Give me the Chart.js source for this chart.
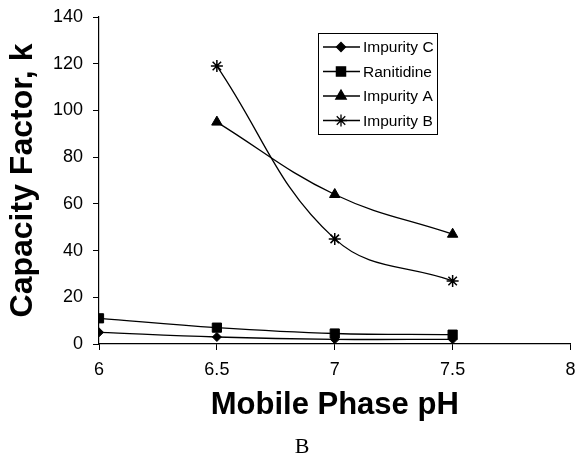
<!DOCTYPE html>
<html>
<head>
<meta charset="utf-8">
<script src="https://cdn.jsdelivr.net/npm/chart.js@4.4.1/dist/chart.umd.min.js"></script>
<style>
  html, body { margin: 0; padding: 0; background: #fff; }
  #wrap { position: relative; width: 578px; height: 456px; }
  #panel { position: absolute; left: 282px; width: 40px; top: 435px; text-align: center;
           font: 22px/22px "Liberation Serif", "Times New Roman", serif; color: #000; }
</style>
</head>
<body>
<div id="wrap">
  <canvas id="chart" width="578" height="456"></canvas>
  <div id="panel">B</div>
</div>
<script>
// mobile phase pH vs capacity factor
let ph = [6, 6.5, 7, 7.5];
let impurityC = [5, 3, 2, 2];
let ranitidine = [11, 7, 4.5, 4];
let impurityA = [null, 95, 64, 47];
let impurityB = [null, 119, 45, 27];

let names = ['Impurity C', 'Ranitidine', 'Impurity A', 'Impurity B'];
let styles = ['rectRot', 'rect', 'triangle', 'star'];
let sizes = [4.5, 6.5, 6, 6];

function pts(vals) {
  let out = [];
  for (let i = 0; i < ph.length; i++) {
    if (vals[i] !== null) out.push({x: ph[i], y: vals[i]});
  }
  return out;
}

function ds(i, vals) {
  return {
    label: names[i],
    data: pts(vals),
    borderColor: '#000',
    backgroundColor: '#000',
    borderWidth: 1.3,
    pointStyle: styles[i],
    pointRadius: sizes[i],
    pointBorderWidth: styles[i] == 'star' ? 1.5 : 1,
    tension: 0.4
  };
}

// legend drawn inside the plot box
let boxLegend = {
  id: 'boxLegend',
  afterDraw(chart) {
    let ctx = chart.ctx;
    let a = chart.chartArea;
    let x0 = a.left + 219, y0 = a.top + 16, w = 119, h = 101;
    ctx.save();
    ctx.strokeStyle = '#000';
    ctx.lineWidth = 1;
    ctx.strokeRect(x0 + 0.5, y0 + 0.5, w, h);
    ctx.font = '15.5px "Liberation Sans", Arial, sans-serif';
    ctx.textBaseline = 'middle';
    ctx.fillStyle = '#000';
    for (let i = 0; i < names.length; i++) {
      let cy = y0 + 14 + i * 24.5;
      ctx.beginPath();
      ctx.moveTo(x0 + 5, cy);
      ctx.lineTo(x0 + 42, cy);
      ctx.lineWidth = 1.3;
      ctx.stroke();
      let d = chart.data.datasets[i];
      Chart.helpers.drawPoint(ctx, {
        pointStyle: styles[i],
        radius: d.pointRadius,
        rotation: 0,
        borderWidth: d.pointBorderWidth
      }, x0 + 23, cy);
      ctx.fillText(names[i], x0 + 45, cy + 1);
    }
    ctx.restore();
  }
};

let tickFont = { family: '"Liberation Sans", Arial', size: 18 };

let mychart = document.getElementById('chart').getContext('2d');
let chart = new Chart(mychart, {
  type: 'line',
  data: {
    datasets: [
      ds(0, impurityC),
      ds(1, ranitidine),
      ds(2, impurityA),
      ds(3, impurityB)
    ]
  },
  options: {
    responsive: false,
    animation: false,
    layout: { padding: { top: 17, right: 6, left: 0, bottom: 0 } },
    plugins: {
      legend: { display: false },
      tooltip: { enabled: false }
    },
    scales: {
      x: {
        type: 'linear',
        min: 6,
        max: 8,
        afterFit: function(s) { s.height = 112; s.paddingLeft = 0; s.paddingRight = 0; },
        ticks: {
          stepSize: 0.5, color: '#000', font: tickFont, padding: 9, maxRotation: 0,
          callback: function(v) { return String(v); }
        },
        grid: { drawOnChartArea: false, color: '#000', tickLength: 6, tickColor: '#000' },
        border: { color: '#000', width: 1.2 },
        title: {
          display: true,
          text: 'Mobile Phase pH',
          color: '#000',
          font: { family: '"Liberation Sans", Arial', size: 31, weight: 'bold' },
          padding: { top: 0, bottom: 32 }
        }
      },
      y: {
        min: 0,
        max: 140,
        afterFit: function(s) { s.width = 99; s.paddingTop = 0; s.paddingBottom = 0; },
        ticks: { stepSize: 20, color: '#000', font: tickFont, padding: 10 },
        grid: { drawOnChartArea: false, color: '#000', tickLength: 6, tickColor: '#000' },
        border: { color: '#000', width: 1.2 },
        title: {
          display: true,
          text: 'Capacity Factor, k',
          color: '#000',
          font: { family: '"Liberation Sans", Arial', size: 32, weight: 'bold' },
          padding: { top: 4, bottom: 0 }
        }
      }
    }
  },
  plugins: [boxLegend]
});
</script>
</body>
</html>
